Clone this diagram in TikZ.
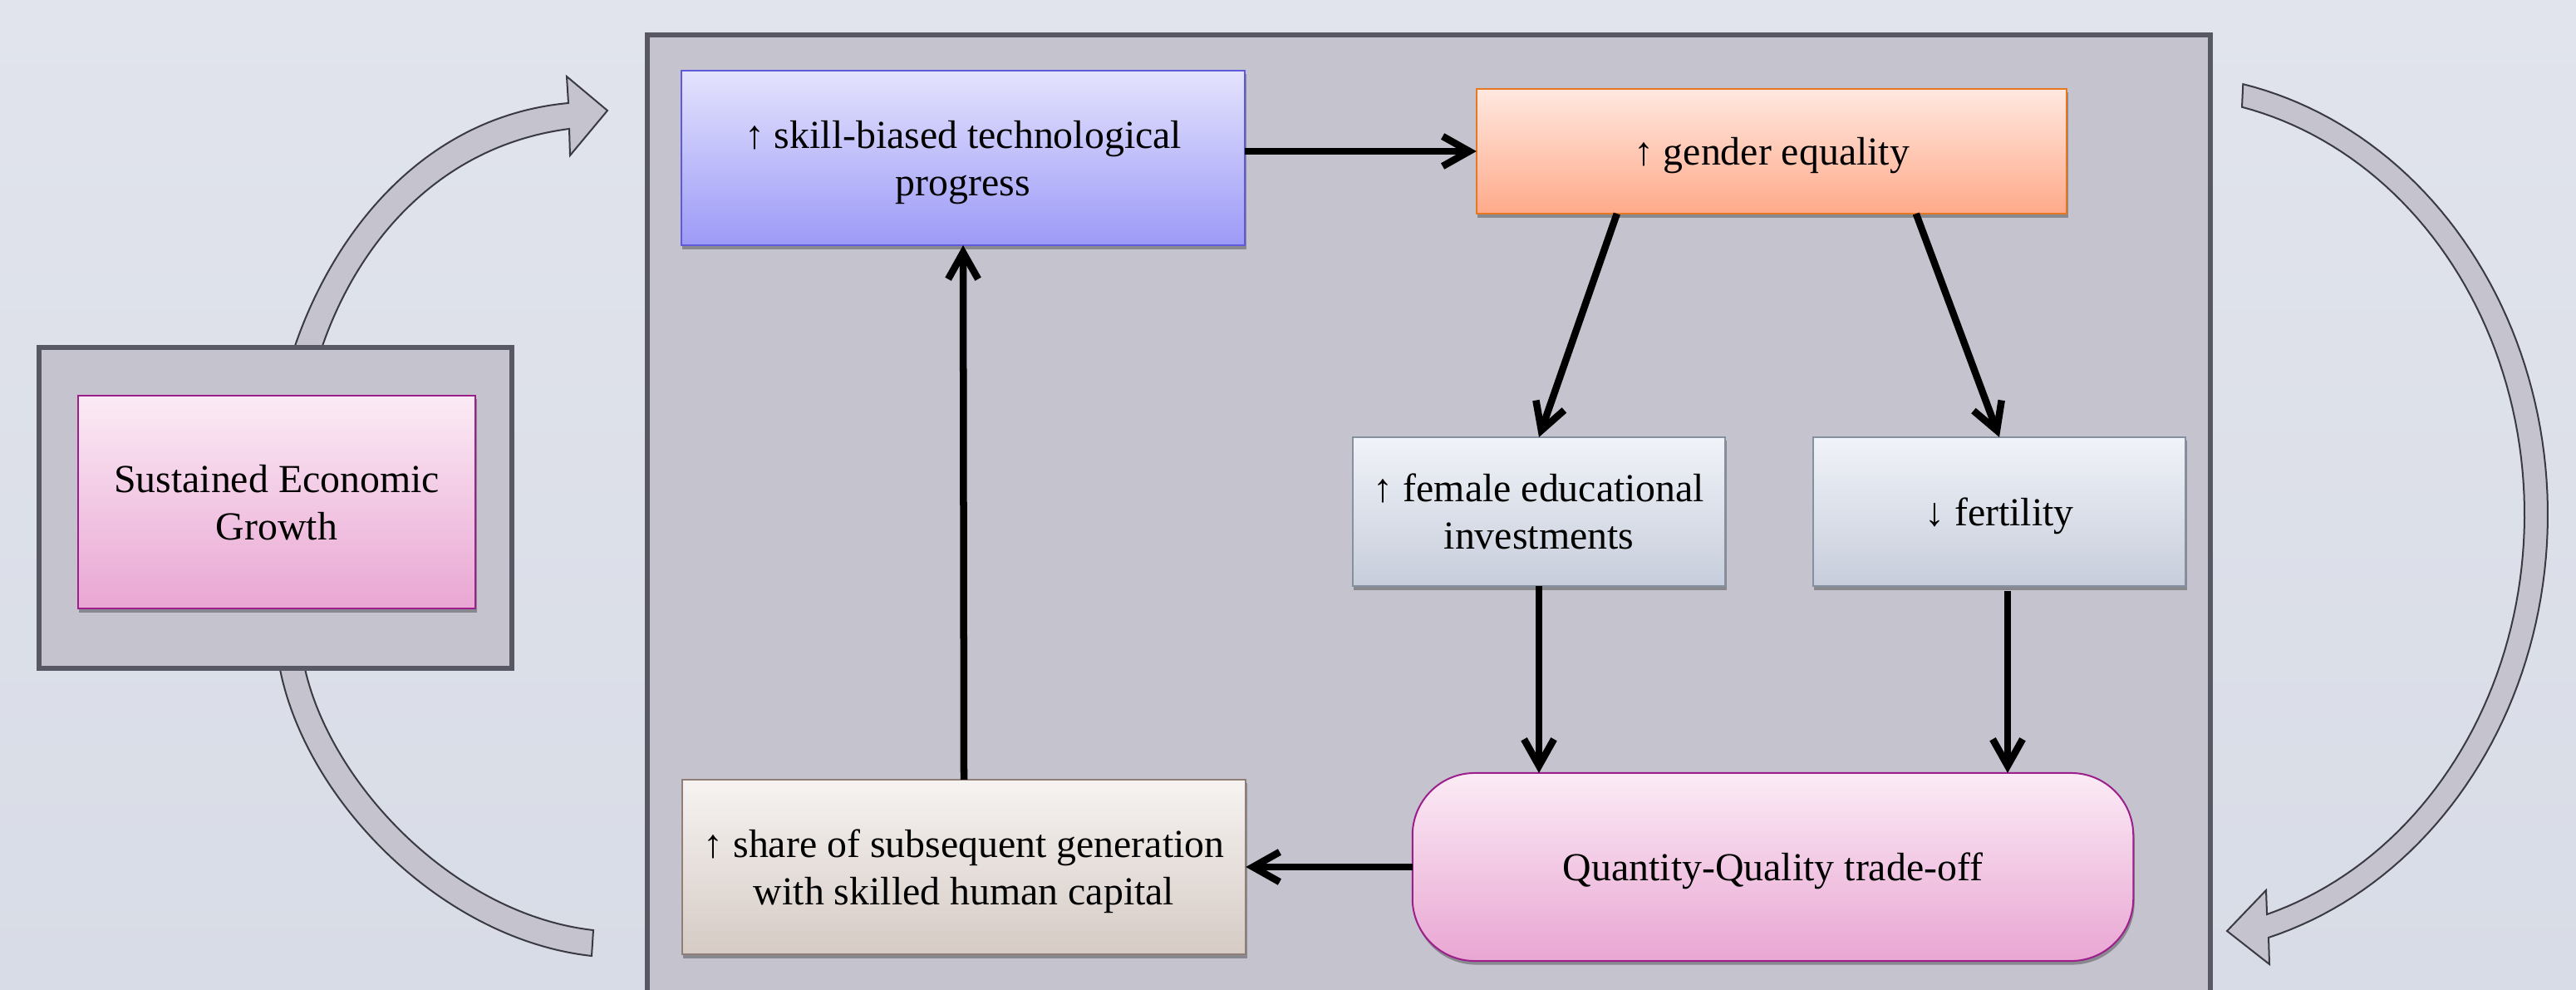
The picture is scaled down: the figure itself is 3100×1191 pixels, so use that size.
\documentclass[tikz,border=0pt]{standalone}
\usepackage{fontspec}
\setmainfont{Liberation Serif}
\usetikzlibrary{arrows.meta,shadows,calc}

\definecolor{bgtop}{HTML}{E1E4EC}
\definecolor{bgbot}{HTML}{D8DCE6}
\definecolor{panelfill}{HTML}{C4C3CE}
\definecolor{panelline}{HTML}{585764}
\definecolor{bandline}{HTML}{3A3A42}
\definecolor{pinktop}{HTML}{FBEBF5}
\definecolor{pinkbot}{HTML}{E9A6D3}
\definecolor{pinkline}{HTML}{9C1F8C}
\definecolor{bluetop}{HTML}{E4E3FD}
\definecolor{bluebot}{HTML}{9C9AF7}
\definecolor{blueline}{HTML}{5E5ADB}
\definecolor{orangetop}{HTML}{FFE8E0}
\definecolor{orangebot}{HTML}{FFAA8A}
\definecolor{orangeline}{HTML}{E87722}
\definecolor{slatetop}{HTML}{F0F3F8}
\definecolor{slatebot}{HTML}{C7CDDB}
\definecolor{slateline}{HTML}{8590A0}
\definecolor{sandtop}{HTML}{F6F3F1}
\definecolor{sandbot}{HTML}{D6CBC5}
\definecolor{sandline}{HTML}{8F7F78}

\tikzset{
  box/.style={draw, line width=0.02cm, inner sep=0pt, outer sep=0pt, align=center, text depth=0pt,
    drop shadow={shadow xshift=0.015cm, shadow yshift=-0.045cm, opacity=0.3, fill=black}},
  pinkbox/.style={box, draw=pinkline, top color=pinktop, bottom color=pinkbot},
  bluebox/.style={box, draw=blueline, top color=bluetop, bottom color=bluebot},
  orangebox/.style={box, draw=orangeline, top color=orangetop, bottom color=orangebot},
  slatebox/.style={box, draw=slateline, top color=slatetop, bottom color=slatebot},
  sandbox/.style={box, draw=sandline, top color=sandtop, bottom color=sandbot},
  frame/.style={fill=panelfill, draw=panelline, line width=0.055cm},
  band/.style={fill=panelfill, draw=bandline, line width=0.02cm, line join=miter},
  flow/.style={line width=0.085cm, -{Straight Barb[length=0.32cm,width=0.36cm]}}
}

\begin{document}
\begin{tikzpicture}[x=0.01cm,y=-0.01cm,font=\fontsize{13.6}{16.2}\selectfont]
\useasboundingbox (0,0) rectangle (3100,1191);
\shade[top color=bgtop,bottom color=bgbot] (0,0) rectangle (3100,1191);

% curved feedback bands on the left
\draw[band] (353,422) .. controls (400,280) and (510,140) .. (684,124)
  -- (682,92) -- (731,133) -- (686,187) -- (685,155)
  .. controls (530,175) and (430,290) .. (386,422) -- cycle;
\draw[band] (336,800) .. controls (365,960) and (530,1130) .. (712,1150)
  -- (714,1119) .. controls (545,1100) and (395,940) .. (366,800) -- cycle;

% curved feedback band on the right
\draw[band] plot[domain=77.7:-73.8, samples=90] ({2600+466*cos(\x)},{619-530*sin(\x)})
  -- (2731,1160) -- (2680,1120) -- (2727,1071)
  -- plot[domain=-73:77.07, samples=90] ({2600+438*cos(\x)},{619-503*sin(\x)}) -- cycle;

% growth block
\node[frame, inner sep=0pt, minimum width=5.69cm, minimum height=3.86cm] (sustout) at (331.5,611) {};
\node[pinkbox, minimum width=4.78cm, minimum height=2.56cm] (growth) at (333,604) {Sustained Economic\\Growth};

% main panel
\draw[frame] (779,42) rectangle (2660,1240);

% mechanism
\node[bluebox, minimum width=6.78cm, minimum height=2.10cm] (tech) at (1159,190) {↑ skill-biased technological\\progress};
\node[orangebox, minimum width=7.10cm, minimum height=1.50cm] (gender) at (2132,182) {↑ gender equality};
\node[slatebox, minimum width=4.48cm, minimum height=1.79cm] (educ) at (1852,615.5) {↑ female educational\\investments};
\node[slatebox, minimum width=4.48cm, minimum height=1.79cm] (fert) at (2406,615.5) {↓ fertility};
\node[pinkbox, rounded corners=0.75cm, minimum width=8.67cm, minimum height=2.26cm] (qq) at (2133.5,1043) {Quantity-Quality trade-off};
\node[sandbox, minimum width=6.78cm, minimum height=2.10cm] (share) at (1160,1043) {↑ share of subsequent generation\\with skilled human capital};

% causal links
\coordinate (g1) at ($(gender.south west)+(169,0)$);
\coordinate (g2) at ($(gender.south west)+(529,0)$);
\coordinate (fs) at ($(fert.south)+(10,6)$);
\draw[flow] (tech.east |- gender.west) -- (gender.west);
\draw[flow] (g1) -- (educ.north);
\draw[flow] (g2) -- (fert.north);
\draw[flow] (educ.south) -- (educ.south |- qq.north);
\draw[flow] (fs) -- (fs |- qq.north);
\draw[flow] (qq.west) -- (share.east);
\draw[flow] (share.north) -- (tech.south);
\end{tikzpicture}
\end{document}
